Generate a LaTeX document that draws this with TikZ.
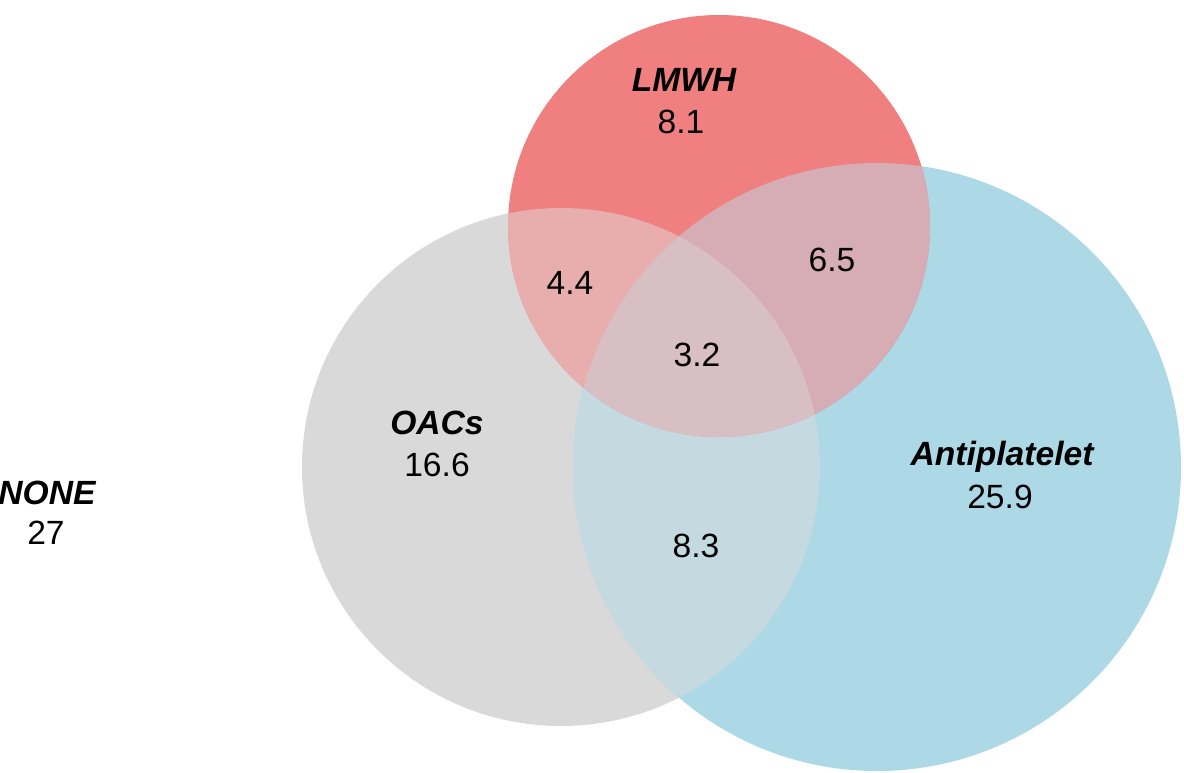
\documentclass[tikz,border=0pt]{standalone}
\usepackage{fontspec}
\setmainfont{Liberation Sans}
\definecolor{cRed}{HTML}{F08080}
\definecolor{cGray}{HTML}{D9D9D9}
\definecolor{cBlue}{HTML}{ADD8E6}
\definecolor{cRG}{HTML}{E8ADAD}
\definecolor{cRB}{HTML}{D6ADB4}
\definecolor{cGB}{HTML}{C5D9E0}
\definecolor{cRGB}{HTML}{D8BFC3}
\tikzset{
  setname/.style={font=\fontsize{16.8}{19}\selectfont\bfseries\itshape, inner sep=0pt, anchor=center},
  setval/.style={font=\fontsize{16.8}{19}\selectfont, inner sep=0pt, anchor=center}
}
\begin{document}
\begin{tikzpicture}[x=0.5pt,y=-0.5pt]
\useasboundingbox (0,0) rectangle (1184,772);
\coordinate (O) at (561,467);
\coordinate (A) at (877,467);
\coordinate (L) at (719,226);
\def\rO{129.5pt}
\def\rA{152pt}
\def\rL{105.5pt}
% base circles
\fill[cGray] (O) circle[radius=\rO];
\fill[cBlue] (A) circle[radius=\rA];
\fill[cRed] (L) circle[radius=\rL];
% pairwise overlaps
\begin{scope}
  \clip (O) circle[radius=\rO];
  \fill[cGB] (A) circle[radius=\rA];
  \fill[cRG] (L) circle[radius=\rL];
\end{scope}
\begin{scope}
  \clip (A) circle[radius=\rA];
  \fill[cRB] (L) circle[radius=\rL];
\end{scope}
\begin{scope}
  \clip (O) circle[radius=\rO];
  \clip (A) circle[radius=\rA];
  \fill[cRGB] (L) circle[radius=\rL];
\end{scope}
% labels
\node[setname] (nL) at (684,80) {LMWH};
\node[setval] (vL) at (681,122) {8.1};
\node[setname] (nO) at (437,423) {OACs};
\node[setval] (vO) at (437,465) {16.6};
\node[setname] (nA) at (1002,457) {Antiplatelet};
\node[setval] (vA) at (1000,497) {25.9};
\node[setname] (nN) at (47,493) {NONE};
\node[setval] (vN) at (46,533) {27};
\node[setval] (vLO) at (570,283) {4.4};
\node[setval] (vLA) at (832,260) {6.5};
\node[setval] (vLOA) at (697,355) {3.2};
\node[setval] (vOA) at (696,546) {8.3};
\end{tikzpicture}
\end{document}
